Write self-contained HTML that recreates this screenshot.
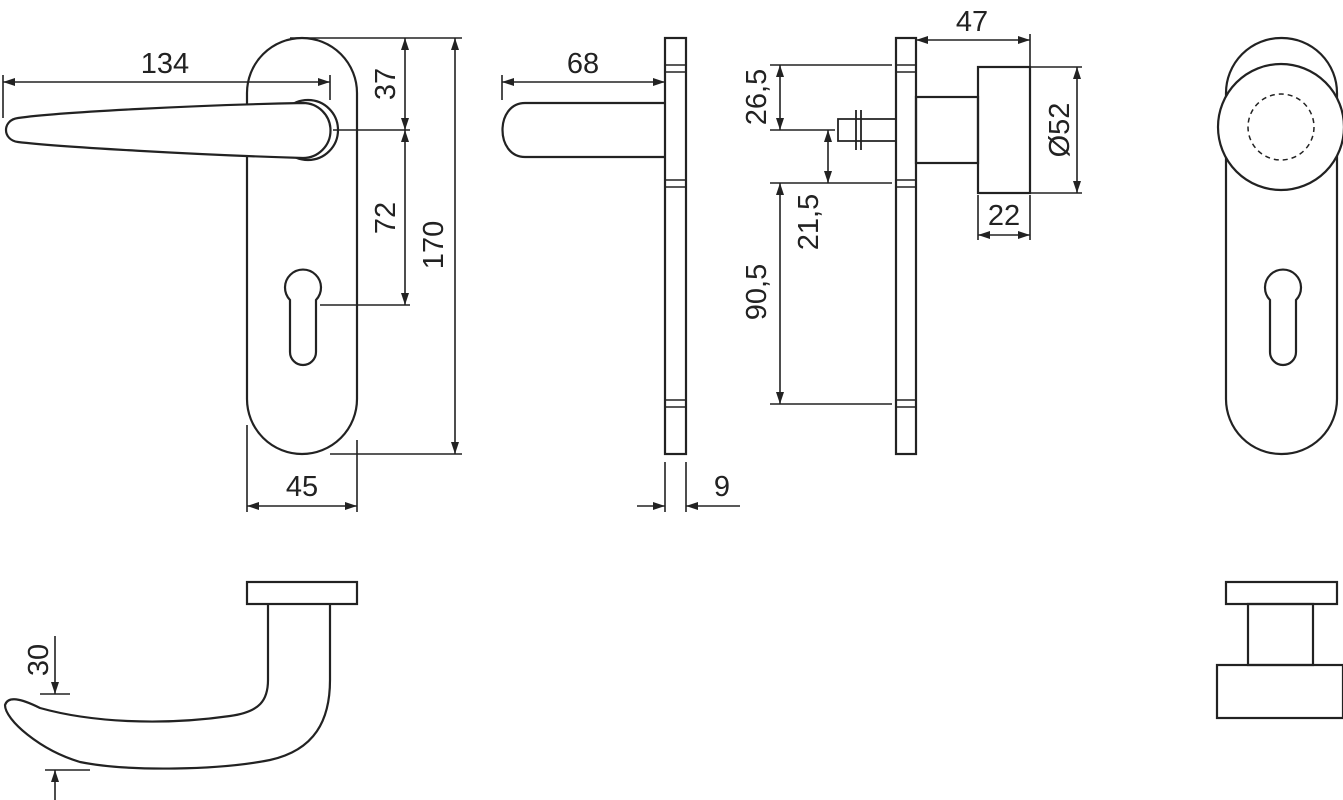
<!DOCTYPE html>
<html><head><meta charset="utf-8"><style>
html,body{margin:0;padding:0;background:#fff;}
svg{display:block;}
text{font-family:"Liberation Sans",sans-serif;font-size:29px;fill:#222;}
</style></head><body>
<svg width="1343" height="800" viewBox="0 0 1343 800" xmlns="http://www.w3.org/2000/svg">
<defs>
<marker id="a" viewBox="0 0 12 8" refX="12" refY="4" markerWidth="12" markerHeight="8" orient="auto-start-reverse" markerUnits="userSpaceOnUse"><path d="M0,0 L12,4 L0,8 z" fill="#222"/></marker>
</defs>
<g fill="none" stroke="#222" stroke-width="2.2">
<!-- Front view lever plate -->
<rect x="247" y="38" width="110" height="416" rx="55"/>
<path d="M290,300 a18,18 0 1 1 26,0 l0,52 a13,13 0 0 1 -26,0 z"/>
<circle cx="308" cy="130" r="30" fill="#fff"/>
<path fill="#fff" d="M303,103 C200,105 60,112 18,118 C2,120 2,140 18,142 C60,147 200,155 303,158 A27.5,27.5 0 0 0 303,103 z"/>
<!-- dims front -->
<g stroke-width="1.6">
<line x1="3" y1="75" x2="3" y2="118"/>
<line x1="3" y1="82" x2="330" y2="82" marker-start="url(#a)" marker-end="url(#a)"/>
<line x1="330" y1="75" x2="330" y2="100"/>
<line x1="290" y1="38" x2="462" y2="38"/>
<line x1="333" y1="130" x2="410" y2="130"/>
<line x1="320" y1="305" x2="410" y2="305"/>
<line x1="330" y1="454" x2="462" y2="454"/>
<line x1="405" y1="38" x2="405" y2="130" marker-start="url(#a)" marker-end="url(#a)"/>
<line x1="405" y1="130" x2="405" y2="305" marker-start="url(#a)" marker-end="url(#a)"/>
<line x1="455" y1="38" x2="455" y2="454" marker-start="url(#a)" marker-end="url(#a)"/>
<line x1="247" y1="425" x2="247" y2="512"/>
<line x1="357" y1="440" x2="357" y2="512"/>
<line x1="247" y1="506" x2="357" y2="506" marker-start="url(#a)" marker-end="url(#a)"/>
</g>

<!-- Side view lever -->
<rect x="665" y="38" width="21" height="416"/>
<path d="M665,65h21M665,72h21M665,180h21M665,187h21M665,400h21M665,407h21" stroke-width="1.5"/>
<path d="M665,103 L525,103 C495,103 495,157 525,157 L665,157"/>
<g stroke-width="1.6">
<line x1="502" y1="75" x2="502" y2="100"/>
<line x1="502" y1="82" x2="665" y2="82" marker-start="url(#a)" marker-end="url(#a)"/>
<line x1="665" y1="462" x2="665" y2="512"/>
<line x1="686" y1="462" x2="686" y2="512"/>
<line x1="637" y1="506" x2="665" y2="506" marker-end="url(#a)"/>
<line x1="740" y1="506" x2="686" y2="506" marker-end="url(#a)"/>
</g>

<!-- Knob side view -->
<rect x="896" y="38" width="20" height="416"/>
<path d="M896,65h20M896,72h20M896,180h20M896,187h20M896,400h20M896,407h20" stroke-width="1.5"/>
<rect x="916" y="97" width="62" height="66"/>
<rect x="978" y="67" width="52" height="126"/>
<path d="M896,119 H838 V141 H896 M856,110 V150 M861,110 V150" stroke-width="1.8"/>
<g stroke-width="1.6">
<line x1="916" y1="40" x2="1030" y2="40" marker-start="url(#a)" marker-end="url(#a)"/>
<line x1="1030" y1="34" x2="1030" y2="67"/>
<line x1="1030" y1="67" x2="1082" y2="67"/>
<line x1="1030" y1="193" x2="1082" y2="193"/>
<line x1="1077" y1="67" x2="1077" y2="193" marker-start="url(#a)" marker-end="url(#a)"/>
<line x1="978" y1="195" x2="978" y2="240"/>
<line x1="1030" y1="195" x2="1030" y2="240"/>
<line x1="978" y1="235" x2="1030" y2="235" marker-start="url(#a)" marker-end="url(#a)"/>
<line x1="770" y1="65" x2="892" y2="65"/>
<line x1="770" y1="130" x2="835" y2="130"/>
<line x1="770" y1="183" x2="892" y2="183"/>
<line x1="770" y1="404" x2="892" y2="404"/>
<line x1="780" y1="65" x2="780" y2="130" marker-start="url(#a)" marker-end="url(#a)"/>
<line x1="828" y1="130" x2="828" y2="183" marker-start="url(#a)" marker-end="url(#a)"/>
<line x1="780" y1="183" x2="780" y2="404" marker-start="url(#a)" marker-end="url(#a)"/>
</g>

<!-- Right front knob view -->
<rect x="1226" y="38" width="111" height="416" rx="55"/>
<circle cx="1281" cy="127" r="63" fill="#fff"/>
<circle cx="1281" cy="127" r="33" stroke-dasharray="5,4" stroke-width="1.5"/>
<path d="M1270,300 a18,18 0 1 1 26,0 l0,52 a13,13 0 0 1 -26,0 z"/>

<!-- Bottom lever top view -->
<rect x="247" y="582" width="110" height="22"/>
<path d="M268,604 L268,680 C268,700 260,712 230,716 C160,726 90,722 40,708 C20,698 8,696 5,705 C5,720 40,750 80,762 C130,772 220,770 270,760 C315,750 330,720 330,680 L330,604"/>
<g stroke-width="1.6">
<line x1="55" y1="636" x2="55" y2="694" marker-end="url(#a)"/>
<line x1="40" y1="694" x2="70" y2="694"/>
<line x1="45" y1="770" x2="90" y2="770"/>
<line x1="55" y1="800" x2="55" y2="770" marker-end="url(#a)"/>
</g>

<!-- Bottom knob top view -->
<rect x="1226" y="582" width="111" height="22"/>
<rect x="1248" y="604" width="65" height="61"/>
<rect x="1217" y="665" width="126" height="53"/>
</g>
<text x="165" y="73" text-anchor="middle">134</text>
<text x="302" y="496" text-anchor="middle">45</text>
<text x="583" y="73" text-anchor="middle">68</text>
<text x="722" y="496" text-anchor="middle">9</text>
<text x="972" y="31" text-anchor="middle">47</text>
<text x="1004" y="225" text-anchor="middle">22</text>
<text transform="translate(395,84) rotate(-90)" text-anchor="middle">37</text>
<text transform="translate(395,218) rotate(-90)" text-anchor="middle">72</text>
<text transform="translate(443,245) rotate(-90)" text-anchor="middle">170</text>
<text transform="translate(766,97) rotate(-90)" text-anchor="middle">26,5</text>
<text transform="translate(818,222) rotate(-90)" text-anchor="middle">21,5</text>
<text transform="translate(766,292) rotate(-90)" text-anchor="middle">90,5</text>
<text transform="translate(1069,130) rotate(-90)" text-anchor="middle">Ø52</text>
<text transform="translate(48,660) rotate(-90)" text-anchor="middle">30</text>
</svg>
</body></html>
